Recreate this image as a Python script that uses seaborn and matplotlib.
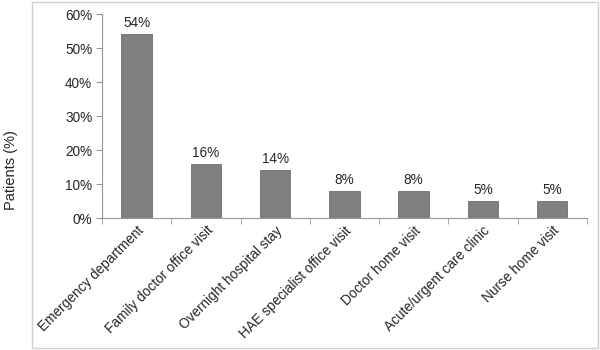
import pandas as pd
import seaborn as sns
import matplotlib.pyplot as plt
from matplotlib.patches import Rectangle
from matplotlib.ticker import PercentFormatter

# data
categories = ['Emergency department', 'Family doctor office visit', 'Overnight hospital stay',
              'HAE specialist office visit', 'Doctor home visit', 'Acute/urgent care clinic',
              'Nurse home visit']
patients_pct = [54, 16, 14, 8, 8, 5, 5]
yticks = [0, 10, 20, 30, 40, 50, 60]

df = pd.DataFrame({'category': categories, 'pct': patients_pct})

sns.set_style('white')
plt.rcParams['font.family'] = ['Liberation Sans', 'DejaVu Sans']

fig = plt.figure(figsize=(6, 3.5), dpi=100)
ax = fig.add_axes([0.17, 0.377, 0.808, 0.583])

sns.barplot(data=df, x='category', y='pct', color='#808080', width=0.44,
            edgecolor='#6e6e6e', linewidth=0.6, saturation=1, ax=ax)

# labels above bars
for i, v in enumerate(patients_pct):
    ax.text(i, v + 1.2, f'{v}%', ha='center', va='bottom', fontsize=9.8)

ax.set_ylim(0, 60)
ax.set_xlim(-0.5, len(categories) - 0.5)
ax.set_yticks(yticks)
ax.yaxis.set_major_formatter(PercentFormatter(decimals=0))
ax.tick_params(axis='y', labelsize=9.8, length=4, color='#999999', left=True, pad=3)

# x ticks between categories, labels rotated
ax.set_xticks(range(len(categories)))
ax.set_xticklabels(categories, rotation=45, ha='right', rotation_mode='anchor', fontsize=9.8)
ax.tick_params(axis='x', length=0, pad=4)
ax.set_xticks([i - 0.5 for i in range(len(categories) + 1)], minor=True)
ax.tick_params(axis='x', which='minor', length=4, color='#999999', bottom=True)

ax.set_xlabel('')
ax.set_ylabel('')
for s in ['top', 'right']:
    ax.spines[s].set_visible(False)
for s in ['left', 'bottom']:
    ax.spines[s].set_color('#999999')
    ax.spines[s].set_linewidth(0.8)

fig.text(0.018, 0.514, 'Patients (%)', rotation=90, ha='center', va='center', fontsize=10.5)

# light border around the plot area
fig.patches.append(Rectangle((0.054, 0.005), 0.943, 0.99, transform=fig.transFigure,
                             fill=False, edgecolor='#d0d0d0', linewidth=1))

fig.savefig('out.png', dpi=100)
